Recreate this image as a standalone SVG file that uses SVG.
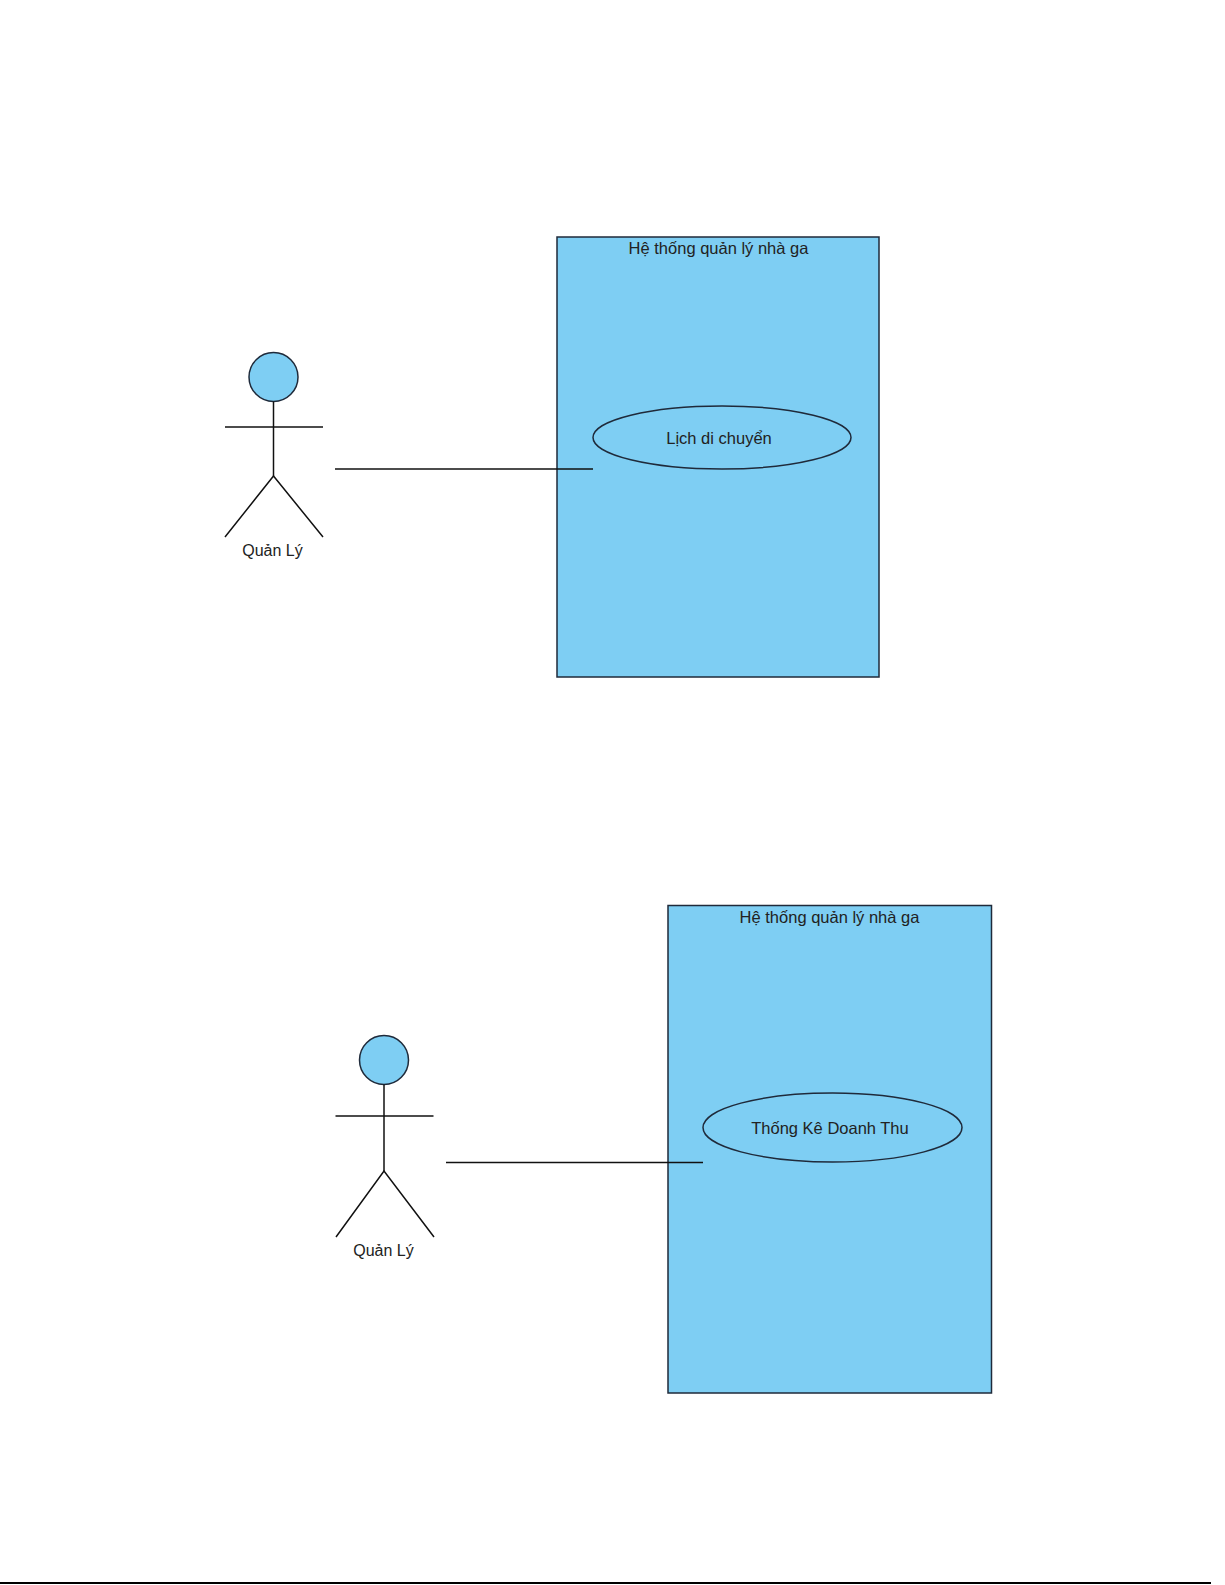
<svg xmlns="http://www.w3.org/2000/svg" width="1225" height="1585" viewBox="0 0 1225 1585">
<style>
.sys{fill:#7ecef3;stroke:#1f2a3a;stroke-width:1.5}
.uc{fill:#7ecef3;stroke:#1f2a3a;stroke-width:1.5}
.head{fill:#7ecef3;stroke:#1f2a3a;stroke-width:1.5}
.ln{stroke:#111;stroke-width:1.5;fill:none}
text{font-family:"Liberation Sans",Arial,sans-serif;fill:#222;text-anchor:middle}
.t{font-size:16.5px}
.u{font-size:16.5px}
.a{font-size:16px}
</style>
<rect width="1225" height="1585" fill="#fff"/>
<g id="system1">
<rect class="sys" x="557" y="237" width="322" height="440"/>
<text class="t" x="718.5" y="254">Hệ thống quản lý nhà ga</text>
</g>
<g id="uc-lich">
<ellipse class="uc" cx="722" cy="437.5" rx="129" ry="31.5"/>
<text class="u" x="719" y="444">Lịch di chuyển</text>
</g>
<g id="actor1">
<circle class="head" cx="273.5" cy="377" r="24.5"/>
<line class="ln" x1="273.5" y1="401.5" x2="273.5" y2="476"/>
<line class="ln" x1="225" y1="427" x2="323" y2="427"/>
<polyline class="ln" points="225,537 273.5,476 323,537"/>
<text class="a" x="272.5" y="556">Quản Lý</text>
</g>
<g id="system2">
<rect class="sys" x="668" y="905.5" width="323.5" height="487.5"/>
<text class="t" x="829.5" y="923">Hệ thống quản lý nhà ga</text>
</g>
<g id="uc-thongke">
<ellipse class="uc" cx="832.5" cy="1127.5" rx="129.5" ry="34.5"/>
<text class="u" x="830" y="1134">Thống Kê Doanh Thu</text>
</g>
<g id="actor2">
<circle class="head" cx="384" cy="1060" r="24.5"/>
<line class="ln" x1="384" y1="1084.5" x2="384" y2="1171"/>
<line class="ln" x1="335.5" y1="1116" x2="433.5" y2="1116"/>
<polyline class="ln" points="336,1237 384,1171 434,1237"/>
<text class="a" x="383.5" y="1256">Quản Lý</text>
</g>
<g id="connectors">
<line class="ln" x1="335" y1="469" x2="593" y2="469"/>
<line class="ln" x1="446" y1="1162.5" x2="703" y2="1162.5"/>
</g>
<line x1="0" y1="1583" x2="1211" y2="1583" stroke="#000" stroke-width="2"/>
</svg>
